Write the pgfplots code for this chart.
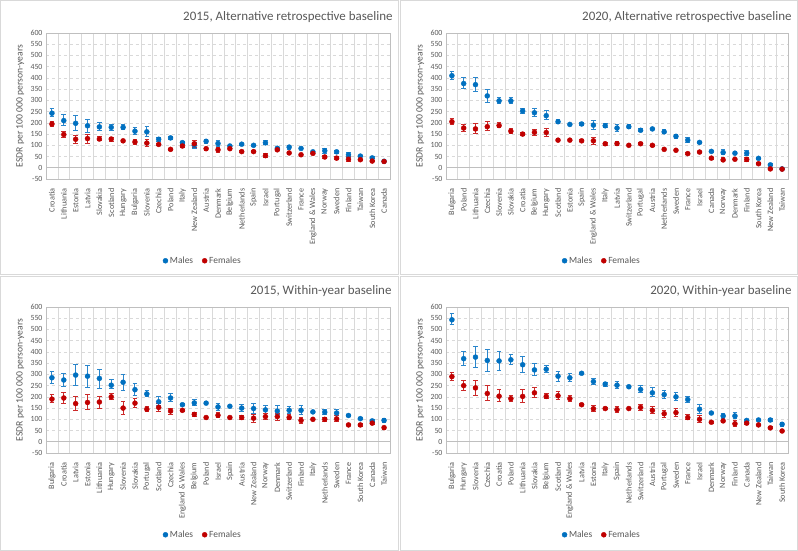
\documentclass[border=0pt]{standalone}
\usepackage{pgfplots}
\pgfplotsset{compat=1.18}
\usepackage{pgfplotstable}
\usepackage{fontspec}
\setmainfont{Carlito}
\definecolor{mblue}{HTML}{0070C0}
\definecolor{fred}{HTML}{C00000}
\definecolor{mbar}{HTML}{2A86CC}
\definecolor{fbar}{HTML}{CC2A2A}
\definecolor{txt}{HTML}{595959}
\definecolor{grd}{HTML}{D9D9D9}
\definecolor{frm}{HTML}{BFBFBF}

% columns: i, Males, Males plus, Males minus, Females, Females plus, Females minus
\pgfplotstableread{
i M Mp Mm F Fp Fm
0 243 19 13 195 12 10
1 210 27 20 148 14 13
2 198 34 33 127 16 20
3 187 27 32 130 20 20
4 182 18 15 128 10 8
5 180 13 12 128 9 10
6 180 12 10 120 8 7
7 163 17 15 115 13 13
8 160 22 22 110 15 15
9 127 8 9 104 6 7
10 133 5 5 82 4 4
11 112 5 5 97 5 5
12 100 12 12 107 15 15
13 118 9 8 85 7 7
14 108 14 13 80 10 10
15 97 6 5 85 5 5
16 105 4 4 72 4 4
17 100 4 4 72 5 5
18 111 9 8 54 8 8
19 87 4 4 80 5 5
20 92 8 10 66 6 6
21 86 3 3 58 3 3
22 71 4 4 64 4 4
23 76 12 11 48 8 8
24 71 8 8 43 5 5
25 58 10 13 38 10 8
26 52 4 4 36 3 3
27 44 4 4 30 3 3
28 29 3 3 28 3 3
}\tA
\pgfplotstableread{
i M Mp Mm F Fp Fm
0 410 20 17 205 13 12
1 375 25 20 177 15 14
2 370 32 30 173 24 21
3 320 28 28 183 22 18
4 298 17 13 188 12 10
5 298 14 13 163 13 10
6 253 12 10 150 8 8
7 245 17 17 158 14 13
8 232 23 19 157 18 17
9 205 10 10 123 9 8
10 193 5 5 123 5 5
11 195 5 5 120 4 4
12 190 20 18 120 17 17
13 187 8 7 107 6 7
14 177 15 14 108 10 10
15 183 9 8 100 4 4
16 167 6 7 107 5 5
17 173 4 4 100 4 4
18 160 10 9 82 6 6
19 140 10 8 78 5 5
20 123 10 9 63 7 6
21 113 4 4 70 4 4
22 73 3 3 43 4 4
23 68 12 11 35 10 7
24 65 7 7 38 4 4
25 65 10 10 37 8 7
26 42 4 4 18 4 3
27 13 5 5 -5 3 3
28 -5 2 2 -6 2 2
}\tB
\pgfplotstableread{
i M Mp Mm F Fp Fm
0 285 28 25 190 20 15
1 275 30 28 195 23 23
2 297 48 47 170 32 32
3 292 48 50 175 35 33
4 282 41 44 177 26 27
5 252 25 17 200 13 12
6 265 35 35 150 28 27
7 232 26 27 172 20 20
8 213 15 13 145 10 10
9 178 22 18 153 17 16
10 195 18 17 137 13 14
11 165 5 5 140 4 4
12 173 14 13 122 10 10
13 172 8 7 108 4 4
14 155 15 15 118 12 12
15 158 5 5 108 4 4
16 150 17 17 108 10 10
17 148 22 20 105 18 18
18 142 18 17 112 13 12
19 137 23 17 112 16 17
20 140 17 15 108 12 11
21 140 22 20 95 15 15
22 133 5 5 100 3 3
23 132 10 10 100 8 8
24 128 15 13 102 13 12
25 117 5 5 75 4 4
26 103 5 5 75 5 5
27 93 5 5 83 7 6
28 95 8 8 63 7 8
}\tC
\pgfplotstableread{
i M Mp Mm F Fp Fm
0 543 27 23 290 18 15
1 370 30 30 250 25 22
2 377 46 47 240 32 32
3 362 48 49 215 35 33
4 360 42 42 203 29 23
5 365 23 20 192 13 12
6 343 37 36 202 30 29
7 320 28 25 218 22 20
8 323 15 15 202 11 10
9 292 23 22 205 17 15
10 285 17 17 192 13 12
11 305 5 5 165 5 5
12 268 15 13 147 13 12
13 257 8 10 148 6 6
14 252 16 17 143 14 13
15 245 5 5 148 4 4
16 233 17 15 153 14 13
17 218 22 18 140 18 15
18 210 20 17 125 15 15
19 200 20 18 130 18 17
20 188 15 15 108 12 11
21 145 20 17 100 15 15
22 128 4 4 87 4 4
23 115 13 12 93 7 6
24 115 15 12 80 13 13
25 95 5 5 83 4 4
26 97 4 4 75 4 4
27 97 7 7 62 5 5
28 78 10 10 48 7 8
}\tD

\pgfplotsset{
  panel/.style={
    scale only axis, height=146bp,
    xmin=-0.5, xmax=28.5, ymin=-50, ymax=600,
    ytick={-50,0,...,600},
    xtick={0,...,28},
    minor xtick={-0.5,0.5,...,28.5},
    major tick length=0pt, minor tick length=0pt,
    ymajorgrids, xminorgrids,
    major grid style={dashed, color=grd, line width=0.6bp},
    minor grid style={solid, color=grd, line width=0.6bp},
    axis line style={color=frm, line width=0.6bp},
    extra y ticks={0}, extra y tick labels={},
    extra y tick style={grid=major, major grid style={solid, color=frm, line width=0.7bp}},
    /pgf/number format/assume math mode=true,
    tick label style={font=\fontsize{7.9}{8}\selectfont, color=txt},
    x tick label style={rotate=90, anchor=east, font=\fontsize{8.2}{9}\selectfont},
    xticklabel shift=6bp,
    ylabel={ESDR per 100~000 person-years},
    ylabel style={at={(axis description cs:-0.075,0.5)}, anchor=center, font=\fontsize{9.7}{10}\selectfont, color=txt},
    legend style={at={(0.456,-0.56)}, anchor=center, draw=none, fill=none,
      legend columns=2, font=\fontsize{9.5}{10}\selectfont, text=txt,
      /tikz/every even column/.append style={column sep=7bp}},
    legend image code/.code={\draw[mark repeat=2,mark phase=2,#1] plot coordinates {(0bp,0bp) (3bp,0bp) (6bp,0bp)};},
    clip=false,
  },
  mser/.style={only marks, mark=*, mark size=2.5bp, mblue,
    mark options={draw=mblue, fill=mblue},
    error bars/y dir=both, error bars/y explicit,
    error bars/draw error bar/.code 2 args={%
      \draw[mbar, line width=1bp] ##1 -- ##2;
      \draw[mbar, line width=1bp] ##2 ++(-2.3bp,0pt) -- ++(4.6bp,0pt);}},
  fser/.style={only marks, mark=*, mark size=2.5bp, fred,
    mark options={draw=fred, fill=fred},
    error bars/y dir=both, error bars/y explicit,
    error bars/draw error bar/.code 2 args={%
      \draw[fbar, line width=1bp] ##1 -- ##2;
      \draw[fbar, line width=1bp] ##2 ++(-2.3bp,0pt) -- ++(4.6bp,0pt);}},
}

\begin{document}
\begin{tikzpicture}
\useasboundingbox (0,0) rectangle (798bp,-551bp);
\fill[white] (0,0) rectangle (798bp,-551bp);
\draw[grd, line width=0.8bp] (0.5bp,-0.5bp) rectangle (398.5bp,-274.5bp);
\draw[grd, line width=0.8bp] (400.5bp,-0.5bp) rectangle (797.5bp,-274.5bp);
\draw[grd, line width=0.8bp] (0.5bp,-276.5bp) rectangle (398.5bp,-550.5bp);
\draw[grd, line width=0.8bp] (400.5bp,-276.5bp) rectangle (797.5bp,-550.5bp);

\node[anchor=east, text=txt, font=\fontsize{13}{14}\selectfont] at (396bp,-17.5bp) {2015, Alternative retrospective baseline};
\node[anchor=east, text=txt, font=\fontsize{13}{14}\selectfont] at (795bp,-17.5bp) {2020, Alternative retrospective baseline};
\node[anchor=east, text=txt, font=\fontsize{13}{14}\selectfont] at (395bp,-291.5bp) {2015, Within-year baseline};
\node[anchor=east, text=txt, font=\fontsize{13}{14}\selectfont] at (795bp,-291.5bp) {2020, Within-year baseline};

\begin{axis}[panel, width=344bp, at={(46bp,-179bp)}, anchor=south west,
  xticklabels={Croatia,Lithuania,Estonia,Latvia,Slovakia,Scotland,Hungary,Bulgaria,Slovenia,Czechia,Poland,Italy,New Zealand,Austria,Denmark,Belgium,Netherlands,Spain,Israel,Portugal,Switzerland,France,{England \& Wales},Norway,Sweden,Finland,Taiwan,South Korea,Canada}]
\addplot[mser] table[x=i,y=M,y error plus=Mp,y error minus=Mm] {\tA};
\addplot[fser] table[x=i,y=F,y error plus=Fp,y error minus=Fm] {\tA};
\legend{Males,Females}
\end{axis}

\begin{axis}[panel, width=342bp, at={(446bp,-179bp)}, anchor=south west,
  xticklabels={Bulgaria,Poland,Lithuania,Czechia,Slovenia,Slovakia,Croatia,Belgium,Hungary,Scotland,Estonia,Spain,{England \& Wales},Italy,Latvia,Switzerland,Portugal,Austria,Netherlands,Sweden,France,Israel,Canada,Norway,Denmark,Finland,South Korea,New Zealand,Taiwan}]
\addplot[mser] table[x=i,y=M,y error plus=Mp,y error minus=Mm] {\tB};
\addplot[fser] table[x=i,y=F,y error plus=Fp,y error minus=Fm] {\tB};
\legend{Males,Females}
\end{axis}

\begin{axis}[panel, width=344bp, at={(46bp,-453bp)}, anchor=south west,
  xticklabels={Bulgaria,Croatia,Latvia,Estonia,Lithuania,Hungary,Slovenia,Slovakia,Portugal,Scotland,Czechia,{England \& Wales},Belgium,Poland,Israel,Spain,Austria,New Zealand,Norway,Denmark,Switzerland,Finland,Italy,Netherlands,Sweden,France,South Korea,Canada,Taiwan}]
\addplot[mser] table[x=i,y=M,y error plus=Mp,y error minus=Mm] {\tC};
\addplot[fser] table[x=i,y=F,y error plus=Fp,y error minus=Fm] {\tC};
\legend{Males,Females}
\end{axis}

\begin{axis}[panel, width=342bp, at={(446bp,-453bp)}, anchor=south west,
  xticklabels={Bulgaria,Hungary,Slovenia,Czechia,Croatia,Poland,Lithuania,Slovakia,Belgium,Scotland,{England \& Wales},Latvia,Estonia,Italy,Spain,Netherlands,Switzerland,Austria,Portugal,Sweden,France,Israel,Denmark,Norway,Finland,Canada,New Zealand,Taiwan,South Korea}]
\addplot[mser] table[x=i,y=M,y error plus=Mp,y error minus=Mm] {\tD};
\addplot[fser] table[x=i,y=F,y error plus=Fp,y error minus=Fm] {\tD};
\legend{Males,Females}
\end{axis}
\end{tikzpicture}
\end{document}
